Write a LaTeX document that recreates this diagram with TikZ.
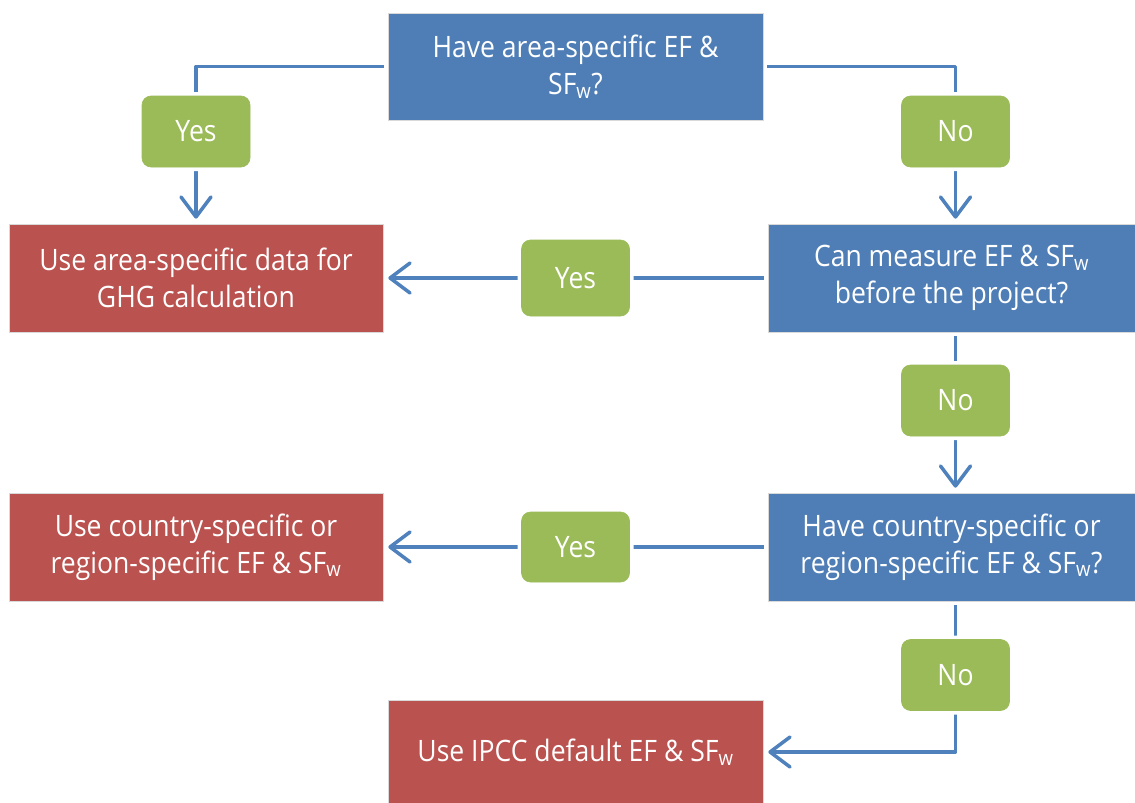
\documentclass[tikz,border=0pt]{standalone}
\usepackage{fontspec}
\setmainfont[FakeStretch=0.9]{Open Sans}
\usetikzlibrary{arrows.meta}
\definecolor{bbox}{HTML}{4F7EB6}
\definecolor{rbox}{HTML}{BA524F}
\definecolor{gbox}{HTML}{9BBB59}
\definecolor{lnk}{HTML}{4F81BD}
\newcommand{\SFw}{SF\textsubscript{w}}
\pgfdeclarelayer{background}
\pgfsetlayers{background,main}
\begin{document}
\begin{tikzpicture}[x=1pt,y=-1pt,
  box/.style={rectangle, draw=white!85!black, line width=0.6pt,
    preaction={draw=white, line width=8pt},
    text=white, align=center, inner sep=0pt,
    font=\fontsize{29.5}{37}\selectfont},
  bluebox/.style={box, fill=bbox, minimum width=367pt, minimum height=108pt},
  redbox/.style={box, fill=rbox, minimum width=374pt, minimum height=108pt},
  greenbox/.style={box, fill=gbox, draw=gbox, rounded corners=9pt,
    minimum width=108pt, minimum height=71pt},
  link/.style={draw=lnk, line width=3.5pt, line join=round,
    -{Straight Barb[length=20pt,width=30pt,round]}, shorten >=5pt}
]
\useasboundingbox (0,0) rectangle (1135,803);
\node[bluebox, minimum width=375pt, minimum height=107pt] (q1) at (575.5,66.5) {Have area-specific EF \&\\\SFw?};
\node[greenbox] (yes1) at (196,131.5) {Yes};
\node[greenbox] (no1) at (955.5,131.5) {No};
\node[redbox] (red1) at (196,278) {Use area-specific data for\\GHG calculation};
\node[bluebox] (q2) at (951.5,278) {Can measure EF \& \SFw\\before the project?};
\node[greenbox, minimum height=76pt] (yes2) at (575.5,278) {Yes};
\node[greenbox] (no2) at (955.5,400.5) {No};
\node[bluebox] (q3) at (951.5,547) {Have country-specific or\\region-specific EF \& \SFw?};
\node[redbox] (red2) at (196,547) {Use country-specific or\\region-specific EF \& \SFw};
\node[greenbox, minimum height=70pt] (yes3) at (575.5,547) {Yes};
\node[greenbox] (no3) at (955.5,675) {No};
\node[redbox, minimum width=375pt, minimum height=104pt] (red3) at (575.5,752) {Use IPCC default EF \& \SFw};
\begin{pgfonlayer}{background}
\draw[link] (q1.west) -| (red1.north);
\draw[link] (q1.east) -| (no1 |- q2.north);
\draw[link] (q2.west) -- (red1.east);
\draw[link] (no2 |- q2.south) -- (no2 |- q3.north);
\draw[link] (q3.west) -- (red2.east);
\draw[link] (no3 |- q3.south) |- (red3.east);
\end{pgfonlayer}
\end{tikzpicture}
\end{document}
